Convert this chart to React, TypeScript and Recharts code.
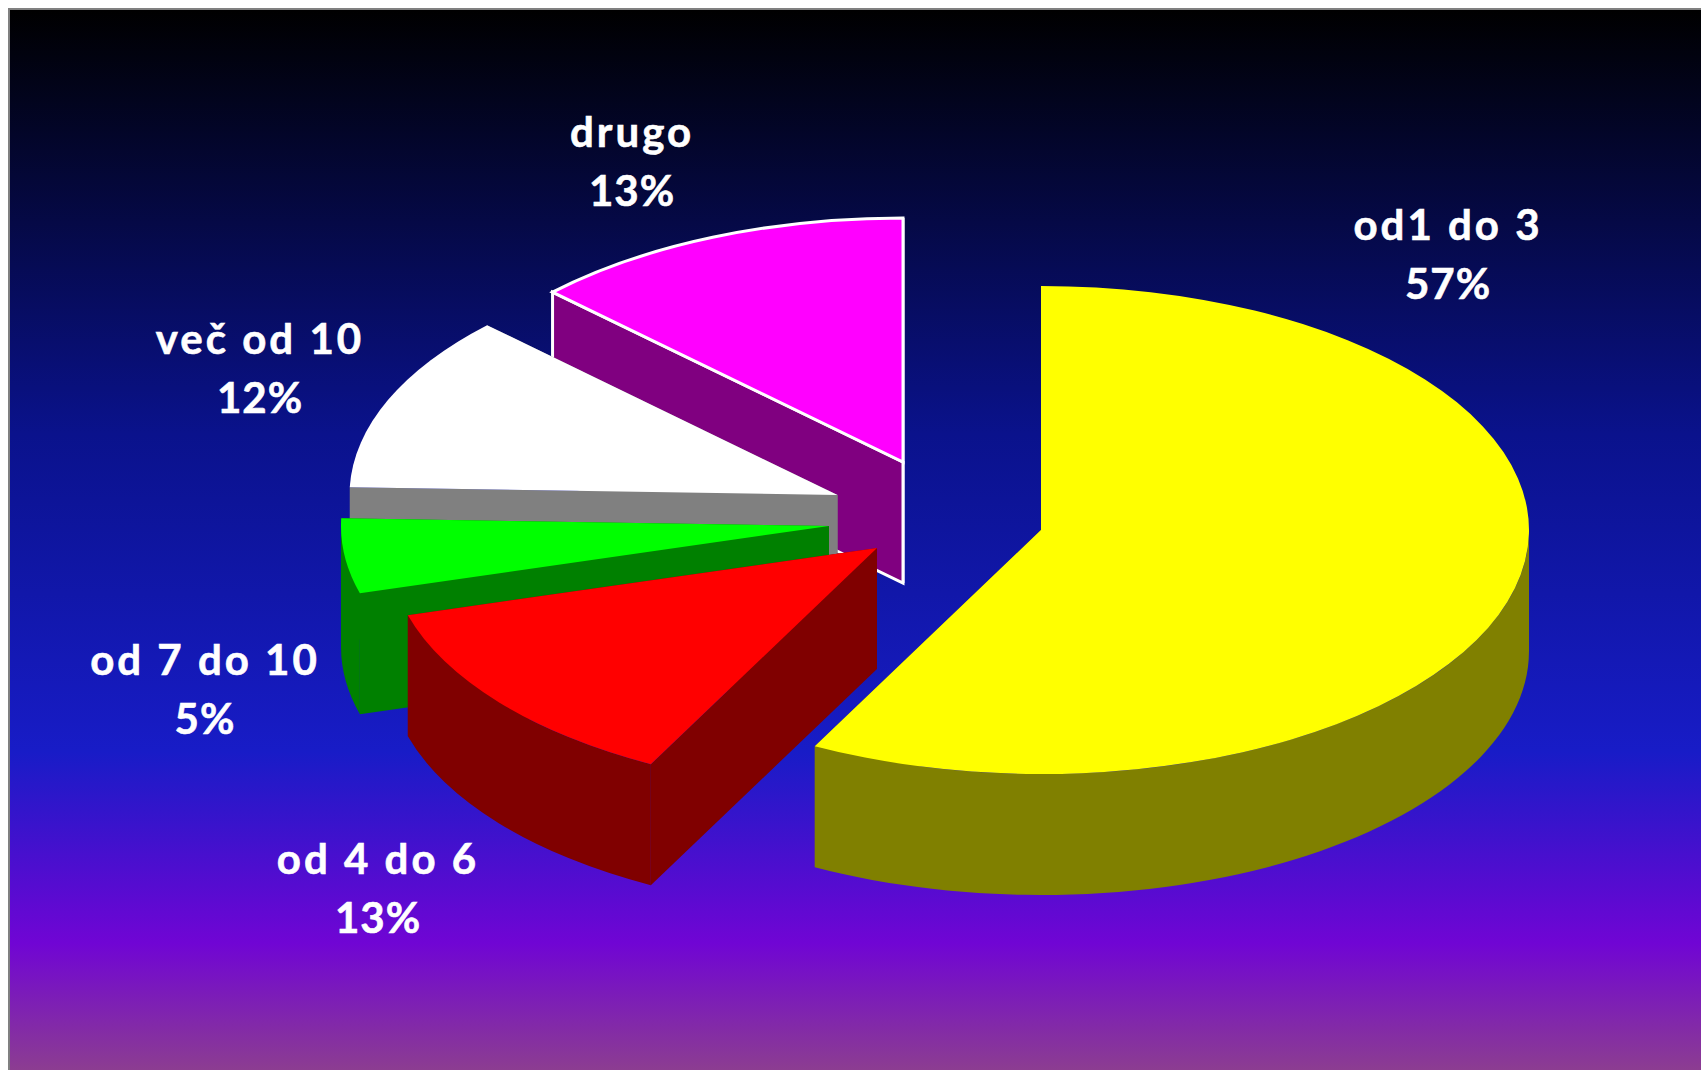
import { Pie, PieChart } from "recharts";

// slices listed counter-clockwise from 12 o'clock, so the front ones paint last
const categories = ["drugo", "več od 10", "od 7 do 10", "od 4 do 6", "od1 do 3"];
const shares = [12.75, 11.75, 4.94, 12.89, 57.67];
const percentLabels = ["13%", "12%", "5%", "13%", "57%"];

const topColors = ["#ff00ff", "#ffffff", "#00ff00", "#ff0000", "#ffff00"];
const sideColors = ["#800080", "#808080", "#008000", "#800000", "#808000"];
const edgeColors = ["#ffffff", "none", "none", "none", "none"];

// how far each slice is pulled out of the pie
const explodeX = [-20, -85.5, -94, -46, 118];
const explodeY = [-50, -17, 14, 36, 18];

// label anchor: centre x, first line baseline
const labelX = [624, 252, 197, 370, 1440];
const labelY = [139, 346, 667, 866, 232];

const W = 1693;
const H = 1062;
const RX = 488;
const SQUASH = 0.5;
const DEPTH = 121;

const tableData = categories.map((name, i) => ({
  name,
  value: shares[i],
  pct: percentLabels[i],
  fill: topColors[i],
  side: sideColors[i],
  edge: edgeColors[i],
  dx: explodeX[i],
  dy: explodeY[i],
  lx: labelX[i],
  ly: labelY[i],
}));

const rad = (a: number) => (a * Math.PI) / 180;

const Slice3D = (props: any) => {
  const { cx, cy, outerRadius, startAngle, endAngle, payload } = props;
  const src = payload.payload ?? payload;
  const rx = outerRadius;
  const ry = outerRadius * SQUASH;
  const x0 = cx + src.dx;
  const y0 = cy + src.dy;
  const pt = (a: number, drop = 0) => [
    x0 + rx * Math.cos(rad(a)),
    y0 - ry * Math.sin(rad(a)) + drop,
  ];
  const arc = (to: number, span: number, sweep: number, drop = 0) => {
    const [x, y] = pt(to, drop);
    return `A${rx} ${ry} 0 ${Math.abs(span) > 180 ? 1 : 0} ${sweep} ${x} ${y}`;
  };
  const wall = (a: number) => {
    const [x, y] = pt(a);
    return `M${x0} ${y0}L${x} ${y}L${x} ${y + DEPTH}L${x0} ${y0 + DEPTH}Z`;
  };
  const [sx, sy] = pt(startAngle);
  const top = `M${x0} ${y0}L${sx} ${sy}${arc(endAngle, endAngle - startAngle, 0)}Z`;

  // only the part of the rim that faces the viewer gets a side wall
  const from = Math.max(startAngle, 180);
  const to = Math.min(endAngle, 360);
  let rim = "";
  if (to > from) {
    const [ax, ay] = pt(from);
    const [bx, by] = pt(to, DEPTH);
    rim = `M${ax} ${ay}${arc(to, to - from, 0)}L${bx} ${by}${arc(from, to - from, 1, DEPTH)}Z`;
  }

  const stroke = src.edge;
  const sw = stroke === "none" ? 0 : 3;
  return (
    <g>
      <path d={wall(startAngle)} fill={src.side} stroke={stroke} strokeWidth={sw} />
      <path d={wall(endAngle)} fill={src.side} stroke={stroke} strokeWidth={sw} />
      {rim && <path d={rim} fill={src.side} />}
      <path d={top} fill={src.fill} stroke={stroke} strokeWidth={sw} />
    </g>
  );
};

const renderLabel = (props: any) => {
  const { name, payload } = props;
  const src = payload.payload ?? payload;
  return (
    <text
      x={src.lx}
      y={src.ly}
      fill="#fff"
      stroke="#fff"
      strokeWidth={0.6}
      textAnchor="middle"
      fontFamily="Lato"
      fontWeight={700}
      fontSize={42}
    >
      <tspan x={src.lx} letterSpacing={3}>
        {name}
      </tspan>
      <tspan x={src.lx} dy={59} letterSpacing={1}>
        {src.pct}
      </tspan>
    </text>
  );
};

export default function App() {
  return (
    <div
      style={{
        position: "absolute",
        left: 8,
        top: 8,
        width: W,
        height: H,
        boxSizing: "border-box",
        borderTop: "2px solid #808080",
        borderLeft: "2px solid #808080",
        overflow: "hidden",
        background:
          "linear-gradient(180deg, #000000 0%, #0a128c 40%, #181cc7 70%, #7005d4 88%, #8c3d91 100%)",
      }}
    >
      <div style={{ position: "absolute", left: -2, top: -2 }}>
        <PieChart width={W} height={H} margin={{ top: 0, right: 0, bottom: 0, left: 0 }}>
          <Pie
            data={tableData}
            dataKey="value"
            nameKey="name"
            cx={915}
            cy={504}
            outerRadius={RX}
            startAngle={90}
            endAngle={450}
            stroke="none"
            label={renderLabel}
            labelLine={false}
            shape={Slice3D}
            isAnimationActive={false}
          />
        </PieChart>
      </div>
    </div>
  );
}
